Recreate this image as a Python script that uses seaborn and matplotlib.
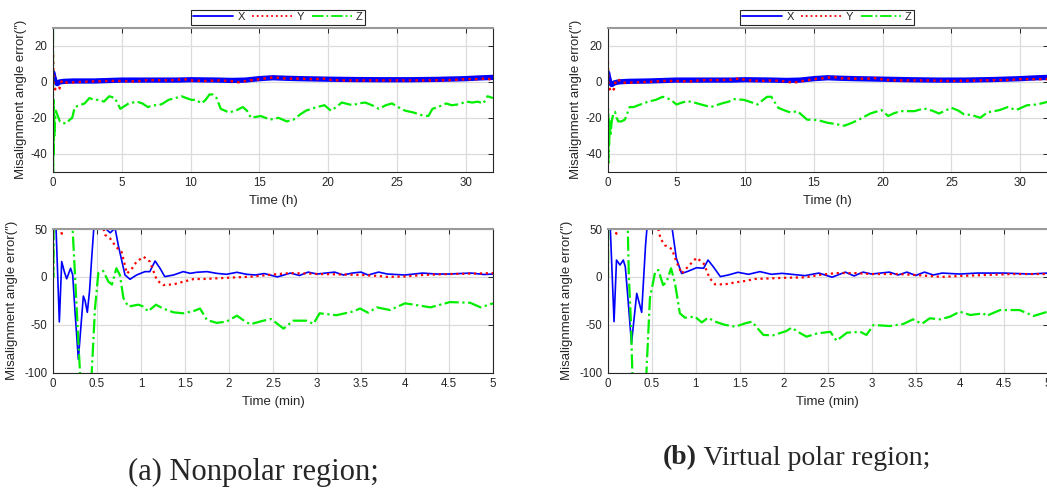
import matplotlib
matplotlib.use('Agg')
import matplotlib.pyplot as plt
import pandas as pd
import seaborn as sns
from matplotlib.lines import Line2D

# ---- data: (time, error in arcsec) ----
# (a) nonpolar region, long run (hours)
a_hour_x = [(0, 5), (0.05, 3), (0.15, 0.5), (0.3, -1), (0.5, 0), (0.8, 0.3), (1.5, 0.5), (3, 0.5), (5, 1),
            (7, 1), (9, 1), (10, 1.2), (12, 1), (13, 0.8), (14, 1), (15, 1.8), (16, 2.3), (17, 2), (18, 1.8),
            (20, 1.5), (22, 1.3), (24, 1.2), (26, 1.2), (28, 1.4), (30, 1.8), (31, 2.2), (32, 2.5)]
a_hour_y = [(0, 15), (0.05, -2), (0.15, -4), (0.3, -5), (0.45, -4), (0.6, 0), (0.75, 1), (1, -0.5), (2, 0),
            (3, 0.3), (4, 0.5), (5, 0.5), (6, 0.3), (7, 1), (8, 0.8), (9, 1), (9.5, 1.6), (10, 0.8), (11, 0.5),
            (12, 0.8), (13, 0.4), (13.5, -0.2), (14, 0.5), (15, 1.5), (16, 2.5), (16.5, 2.2), (17, 1.8),
            (18, 1.8), (19, 1.5), (19.7, 1.8), (20, 1.2), (21, 0.8), (23, 0.8), (25, 0.8), (27, 0.8), (29, 1),
            (30, 1.5), (31, 1.5), (31.5, 2), (32, 1)]
a_hour_z = [(0, 30), (0.01, -50), (0.03, -10), (0.05, -40), (0.08, -18), (0.1, -30), (0.15, -22), (0.2, -16),
            (0.3, -18), (0.4, -20), (0.5, -22), (0.7, -23), (1.0, -23), (1.22, -21), (1.4, -20), (1.58, -14),
            (1.94, -13), (2.3, -12), (2.65, -9), (3.0, -10), (3.37, -10), (3.7, -11), (4.09, -8), (4.5, -9),
            (4.9, -15), (5.5, -12), (6.1, -11), (6.5, -12), (6.9, -14), (7.3, -13), (7.7, -13), (8.0, -12),
            (8.4, -10), (8.9, -9), (9.35, -8), (9.7, -9), (10.07, -10), (10.4, -10), (10.8, -12), (11.1, -10),
            (11.38, -7), (11.6, -7), (11.9, -9), (12.2, -15), (12.8, -17), (13.3, -16), (13.8, -14),
            (14.1, -16), (14.4, -20), (15.1, -19), (15.8, -21), (16.4, -20), (17.0, -22), (17.5, -21),
            (18.0, -18), (18.4, -16), (19.2, -14), (19.75, -13), (20.2, -16), (20.6, -14), (21.0, -11.5),
            (21.8, -13), (22.2, -12), (22.7, -11.5), (23.2, -13), (23.7, -15), (24.2, -13), (24.65, -12),
            (25.1, -14), (25.6, -16), (26.2, -17), (26.8, -18.5), (27.3, -19), (27.6, -15), (28.0, -14),
            (28.6, -12), (29.0, -13), (29.4, -12.6), (30.1, -11), (30.5, -11.5), (30.9, -11), (31.3, -12),
            (31.6, -8), (32, -9)]

# (b) virtual polar region, long run (hours)
b_hour_x = [(0, 5), (0.05, 3), (0.15, 0), (0.3, -1.5), (0.5, -0.5), (0.8, 0), (1.5, 0.3), (3, 0.5), (5, 1),
            (7, 1), (9, 1), (10, 1.2), (12, 1), (13, 0.8), (14, 1), (15, 1.8), (16, 2.3), (17, 2), (18, 1.8),
            (20, 1.5), (22, 1.2), (24, 1), (26, 1), (28, 1.3), (30, 1.8), (31, 2.2), (32, 2.5)]
b_hour_y = [(0, 15), (0.05, -2), (0.15, -4), (0.3, -5.5), (0.45, -4), (0.6, 1), (0.75, 1.5), (1, -0.5),
            (2, -0.3), (3, 0), (4, 0.5), (5, 0.5), (6, 0.3), (7, 1), (8, 1), (9, 1.2), (9.6, 2), (10, 1),
            (11, 0.5), (12, 0.8), (13, 0.2), (13.5, -0.5), (14, 0.3), (15, 1.5), (16, 2.3), (16.4, 2.8),
            (17, 2), (18, 1.8), (19, 1.8), (19.7, 2.2), (20, 1.2), (21, 0.8), (23, 0.8), (25, 0.5), (27, 0.8),
            (29, 1), (30, 1.5), (31, 1.5), (32, 1.5)]
b_hour_z = [(0, 30), (0.01, -50), (0.03, -15), (0.05, -45), (0.08, -20), (0.1, -35), (0.15, -22), (0.2, -30),
            (0.29, -22), (0.4, -18), (0.53, -16.7), (0.65, -20), (0.77, -22), (1.0, -22), (1.25, -21),
            (1.6, -14), (1.9, -14), (2.22, -13), (2.6, -12), (2.94, -11), (3.5, -10), (4.0, -8.3), (4.3, -9),
            (4.6, -10), (5.0, -12.6), (5.4, -11.5), (5.8, -10.7), (6.3, -11.5), (6.8, -12.6), (7.5, -14),
            (7.9, -13), (8.3, -12), (8.8, -11), (9.2, -9.6), (9.9, -10), (10.5, -11.5), (10.9, -12.6),
            (11.3, -10), (11.6, -8.3), (11.9, -8.3), (12.4, -14.4), (12.9, -16), (13.3, -17), (13.8, -16.3),
            (14.5, -21), (15.3, -21.3), (16.0, -22.8), (16.6, -23.5), (17.2, -24.4), (17.7, -23),
            (18.2, -21.3), (19.1, -17.6), (19.9, -15.7), (20.4, -19), (20.8, -17.5), (21.3, -16.3),
            (22.3, -16.3), (23.0, -14.8), (23.6, -16), (24.1, -17.6), (25.0, -14.4), (25.5, -16), (25.9, -18),
            (26.5, -18.5), (27.1, -20), (27.6, -17), (28.5, -15.7), (29.1, -14), (29.7, -15.7), (30.5, -13),
            (31.2, -12.6), (31.8, -11.5), (32, -11)]

# (a) nonpolar region, first 5 minutes
a_min_x = [(0, 300), (0.035, 50), (0.072, -47), (0.099, 16), (0.13, 5), (0.155, -2), (0.2, 9), (0.224, 2),
           (0.25, -36), (0.288, -86), (0.31, -60), (0.345, -20), (0.365, -25), (0.39, -37), (0.415, -15),
           (0.44, 20), (0.466, 54), (0.52, 150), (0.57, 70), (0.59, 51), (0.65, 46), (0.705, 51), (0.742, 33),
           (0.818, 2), (0.875, -2.5), (0.95, 2), (1.045, 5.5), (1.1, 5.5), (1.16, 16.6), (1.216, 9),
           (1.27, 0.3), (1.37, 2), (1.48, 5.5), (1.56, 3.7), (1.63, 4.8), (1.75, 5.5), (1.86, 3.7),
           (1.97, 2.7), (2.09, 4.8), (2.2, 2.7), (2.3, 2), (2.4, 3.5), (2.55, 0), (2.7, 4), (2.8, 1.5),
           (2.9, 5), (3.0, 3), (3.2, 5), (3.3, 2), (3.4, 4), (3.5, 5), (3.58, 2), (3.7, 5), (3.8, 3), (4.0, 2),
           (4.2, 4), (4.35, 3), (4.5, 3), (4.75, 4), (4.9, 2.5), (5, 3)]
a_min_y = [(0, 200), (0.07, 60), (0.09, 48), (0.1, 45), (0.115, 52), (0.2, 120), (0.35, 180), (0.5, 100),
           (0.57, 52), (0.59, 44), (0.65, 40), (0.72, 31), (0.78, 26), (0.84, 3.5), (0.9, 9), (0.95, 16),
           (1.03, 21), (1.1, 16), (1.18, -3.3), (1.25, -8.5), (1.37, -7.8), (1.48, -5), (1.6, -2.2),
           (1.71, -2.2), (1.86, -1.5), (2.01, -0.8), (2.24, 0.2), (2.5, 2.5), (2.7, 4), (2.9, 3.5), (3.0, 3),
           (3.3, 2.5), (3.5, 2), (3.7, 1), (3.8, 0), (4.0, 0.5), (4.2, 2), (4.5, 3), (4.8, 3.5), (5, 4)]
a_min_z = [(0, 60), (0.003, 0), (0.006, 50), (0.05, 120), (0.15, 150), (0.22, 55), (0.25, 2), (0.277, -47),
           (0.307, -100), (0.35, -180), (0.42, -150), (0.44, -100), (0.477, -33), (0.515, 4), (0.57, 6.3),
           (0.63, -5), (0.67, -8), (0.72, 9), (0.76, 2), (0.8, -22), (0.856, -31), (0.97, -29), (1.03, -31),
           (1.08, -36), (1.17, -29), (1.25, -33), (1.37, -37), (1.48, -38), (1.6, -35.6), (1.67, -33),
           (1.75, -45), (1.86, -48), (1.97, -46.7), (2.09, -40.5), (2.16, -45), (2.24, -49.5), (2.39, -45.7),
           (2.48, -44), (2.62, -54), (2.73, -45.7), (2.88, -45.7), (2.96, -49), (3.03, -38), (3.22, -40),
           (3.4, -36.3), (3.49, -33), (3.58, -37.4), (3.68, -31.8), (3.83, -34.6), (4.0, -27.6), (4.17, -30),
           (4.29, -31.8), (4.51, -26.3), (4.74, -27), (4.86, -31.8), (5.0, -27.6)]

# (b) virtual polar region, first 5 minutes
b_min_x = [(0, 300), (0.03, 50), (0.072, -46.7), (0.1, 17.6), (0.14, 12.4), (0.177, 17.6), (0.2, 10.6),
           (0.227, -19), (0.27, -69.5), (0.33, -17.2), (0.386, -37), (0.43, 33), (0.45, 55), (0.55, 200),
           (0.7, 100), (0.727, 54), (0.78, 19.4), (0.84, 3.5), (0.916, 6), (1.01, 9.6), (1.09, 9),
           (1.14, 17.6), (1.2, 10.6), (1.28, 0.3), (1.37, 2), (1.48, 4.8), (1.6, 2.7), (1.73, 5.5),
           (1.86, 2.7), (1.98, 3.7), (2.09, 2.7), (2.24, 1.3), (2.4, 4), (2.55, -0.3), (2.7, 5), (2.8, 1),
           (2.9, 5), (3.0, 3), (3.2, 5), (3.3, 2), (3.4, 5), (3.5, 1.5), (3.6, 5), (3.7, 2), (3.8, 4),
           (4.0, 3), (4.2, 4), (4.5, 4), (4.8, 3), (5, 4)]
b_min_y = [(0, 200), (0.07, 60), (0.09, 47), (0.1, 45), (0.115, 52), (0.2, 120), (0.35, 180), (0.5, 100),
           (0.57, 52), (0.6, 40), (0.65, 33), (0.73, 29), (0.78, 16), (0.84, 3.5), (0.93, 12.4), (1.01, 20),
           (1.09, 14), (1.16, -1.5), (1.22, -7.8), (1.33, -7.8), (1.45, -5.7), (1.56, -4.3), (1.67, -2.2),
           (1.86, -1.5), (2.05, -0.8), (2.24, -0.5), (2.4, 2), (2.6, 4), (2.8, 4), (3.0, 3), (3.3, 3),
           (3.5, 2), (3.8, 0), (4.0, 1), (4.3, 2), (4.6, 3), (5, 3)]
b_min_z = [(0, 60), (0.003, 0), (0.006, 50), (0.05, 120), (0.15, 150), (0.227, 55), (0.24, 2), (0.265, -50),
           (0.28, -100), (0.33, -180), (0.42, -150), (0.44, -100), (0.48, -22), (0.54, 5.5), (0.575, 7.2),
           (0.63, -8.5), (0.67, -5), (0.72, 9), (0.765, -6.7), (0.82, -38), (0.878, -42.6), (0.99, -41.5),
           (1.07, -47.5), (1.14, -42.6), (1.22, -46.7), (1.33, -50), (1.45, -52), (1.56, -48.5),
           (1.64, -46.7), (1.71, -54.4), (1.77, -60.6), (1.88, -61), (2.03, -56.5), (2.09, -53),
           (2.17, -57.8), (2.26, -62.4), (2.38, -59), (2.53, -57.3), (2.6, -66.6), (2.72, -58.2),
           (2.87, -57.3), (2.94, -60.6), (3.02, -50.2), (3.21, -51.3), (3.36, -49.1), (3.47, -44.3),
           (3.57, -49), (3.66, -43.2), (3.78, -44.3), (3.89, -41.5), (4.0, -36.3), (4.12, -39.8), (4.27, -38),
           (4.3, -40.8), (4.46, -34.6), (4.68, -34.6), (4.84, -40.8), (5.0, -36.3)]

axis_names = ['X', 'Y', 'Z']
colors = {'X': '#0000ff', 'Y': '#ff0000', 'Z': '#00ee00'}
styles = {'X': '-', 'Y': ':', 'Z': '-.'}

sns.set_style('white')
plt.rcParams['font.family'] = ['Liberation Sans', 'DejaVu Sans']
ylab = 'Misalignment angle error(\u2033)'


def draw(ax, series, widths):
    for name, pts in zip(axis_names, series):
        df = pd.DataFrame(pts, columns=['t', 'err'])
        sns.lineplot(data=df, x='t', y='err', ax=ax, color=colors[name], ls=styles[name],
                     lw=widths[name], estimator=None, sort=False)


def style_axes(ax, xlim, ylim, xticks, yticks, xlabel, ylab_x):
    ax.set_xlim(*xlim)
    ax.set_ylim(*ylim)
    ax.set_xticks(xticks)
    ax.set_yticks(yticks)
    ax.set_xticklabels([f'{v:g}' for v in xticks])
    ax.set_yticklabels([f'{v:g}' for v in yticks])
    ax.grid(True, color='#dcdcdc', lw=0.9)
    ax.set_axisbelow(True)
    ax.tick_params(direction='in', top=True, right=True, length=3.5, width=0.7, labelsize=8.3,
                   colors='#262626', pad=4)
    for side, sp in ax.spines.items():
        sp.set_visible(True)
        sp.set_color('#262626')
        sp.set_linewidth(0.8)
    ax.spines['top'].set_color('#9a9a9a')
    ax.spines['top'].set_linewidth(1.5)
    ax.set_xlabel(xlabel, fontsize=9.5, color='#262626')
    ax.set_ylabel(ylab, fontsize=9.5, color='#262626')
    ax.xaxis.set_label_coords(0.5, -0.16)
    ax.yaxis.set_label_coords(ylab_x, 0.5)


fig = plt.figure(figsize=(10.47, 4.9), dpi=100)
W, H = 1047, 490
ax_at = fig.add_axes([53 / W, 1 - 171.7 / H, 440 / W, 143.7 / H])
ax_am = fig.add_axes([53 / W, 1 - 372.7 / H, 440 / W, 143.7 / H])
ax_bt = fig.add_axes([607.7 / W, 1 - 171.7 / H, 440 / W, 143.7 / H])
ax_bm = fig.add_axes([607.7 / W, 1 - 372.7 / H, 440 / W, 143.7 / H])

hour_w = {'X': 3.8, 'Y': 1.8, 'Z': 1.6}
min_w = {'X': 1.2, 'Y': 1.6, 'Z': 1.6}
draw(ax_at, [a_hour_x, a_hour_y, a_hour_z], hour_w)
draw(ax_bt, [b_hour_x, b_hour_y, b_hour_z], hour_w)
draw(ax_am, [a_min_x, a_min_y, a_min_z], min_w)
draw(ax_bm, [b_min_x, b_min_y, b_min_z], min_w)

hour_ticks = [0, 5, 10, 15, 20, 25, 30]
min_ticks = [0, 0.5, 1, 1.5, 2, 2.5, 3, 3.5, 4, 4.5, 5]
style_axes(ax_at, (0, 32), (-50, 30), hour_ticks, [-40, -20, 0, 20], 'Time (h)', -0.059)
style_axes(ax_bt, (0, 32), (-50, 30), hour_ticks, [-40, -20, 0, 20], 'Time (h)', -0.058)
style_axes(ax_am, (0, 5), (-100, 50), min_ticks, [-100, -50, 0, 50], 'Time (min)', -0.08)
style_axes(ax_bm, (0, 5), (-100, 50), min_ticks, [-100, -50, 0, 50], 'Time (min)', -0.079)

handles = [Line2D([], [], color=colors[n], ls=styles[n], lw=1.3) for n in axis_names]
for ax, cx in [(ax_at, 0.511), (ax_bt, 0.498)]:
    leg = ax.legend(handles, axis_names, ncol=3, loc='lower center', bbox_to_anchor=(cx, 1.02),
                    fontsize=8, frameon=True, fancybox=False, edgecolor='#262626', framealpha=1,
                    handlelength=3.6, handletextpad=0.35, columnspacing=0.7, borderpad=0.25,
                    borderaxespad=0)
    leg.get_frame().set_linewidth(0.8)

# panel captions
fig.text(128 / W, 1 - 472 / H, '(a) Nonpolar region;', ha='left', va='center',
         family='Liberation Serif', fontsize=22)
tb = fig.text(663 / W, 1 - 458 / H, '(b)', ha='left', va='center',
              family='Liberation Serif', fontsize=20, weight='bold')
fig.canvas.draw()
bb = tb.get_window_extent().transformed(fig.transFigure.inverted())
fig.text(bb.x1, 1 - 458 / H, ' Virtual polar region;', ha='left', va='center',
         family='Liberation Serif', fontsize=20)

fig.savefig('out.png', dpi=100)
